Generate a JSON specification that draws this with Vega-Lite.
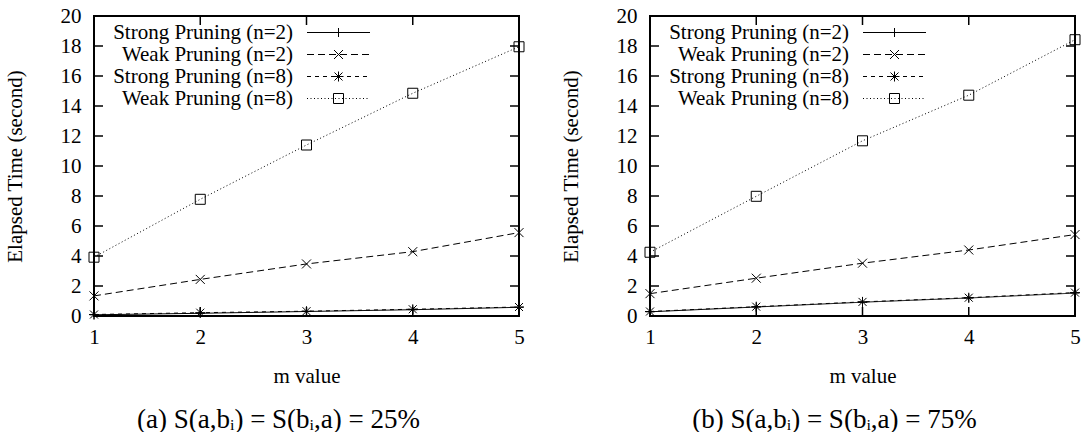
{
  "$schema": "https://vega.github.io/schema/vega-lite/v6.json",
  "background": "white",
  "padding": {"left": 3, "top": 4, "right": 5, "bottom": 5},
  "spacing": 25,
  "config": {
    "font": "Liberation Serif, Times New Roman, DejaVu Serif, serif",
    "view": {"stroke": "#000000", "strokeWidth": 2},
    "axis": {
      "domain": false,
      "grid": false,
      "ticks": false,
      "labelFlush": false,
      "labelColor": "#000000",
      "labelFont": "Liberation Serif, Times New Roman, DejaVu Serif, serif",
      "labelFontSize": 21,
      "titleColor": "#000000",
      "titleFont": "Liberation Serif, Times New Roman, DejaVu Serif, serif",
      "titleFontSize": 21,
      "titleFontWeight": "normal"
    },
    "legend": {
      "orient": "none",
      "title": null,
      "padding": 0,
      "rowPadding": 0,
      "labelFont": "Liberation Serif, Times New Roman, DejaVu Serif, serif",
      "labelFontSize": 21,
      "labelColor": "#000000",
      "labelLimit": 0
    },
    "title": {"font": "Liberation Serif, Times New Roman, DejaVu Serif, serif"}
  },
  "datasets": {
    "s25": [
      {"m": 1, "series": "Strong Pruning (n=2)", "time": 0.08},
      {"m": 2, "series": "Strong Pruning (n=2)", "time": 0.18},
      {"m": 3, "series": "Strong Pruning (n=2)", "time": 0.3},
      {"m": 4, "series": "Strong Pruning (n=2)", "time": 0.42},
      {"m": 5, "series": "Strong Pruning (n=2)", "time": 0.58},
      {"m": 1, "series": "Weak Pruning (n=2)", "time": 1.34},
      {"m": 2, "series": "Weak Pruning (n=2)", "time": 2.44},
      {"m": 3, "series": "Weak Pruning (n=2)", "time": 3.47},
      {"m": 4, "series": "Weak Pruning (n=2)", "time": 4.29},
      {"m": 5, "series": "Weak Pruning (n=2)", "time": 5.56},
      {"m": 1, "series": "Strong Pruning (n=8)", "time": 0.1},
      {"m": 2, "series": "Strong Pruning (n=8)", "time": 0.22},
      {"m": 3, "series": "Strong Pruning (n=8)", "time": 0.32},
      {"m": 4, "series": "Strong Pruning (n=8)", "time": 0.45},
      {"m": 5, "series": "Strong Pruning (n=8)", "time": 0.6},
      {"m": 1, "series": "Weak Pruning (n=8)", "time": 3.92},
      {"m": 2, "series": "Weak Pruning (n=8)", "time": 7.78},
      {"m": 3, "series": "Weak Pruning (n=8)", "time": 11.4},
      {"m": 4, "series": "Weak Pruning (n=8)", "time": 14.85},
      {"m": 5, "series": "Weak Pruning (n=8)", "time": 17.95}
    ],
    "s75": [
      {"m": 1, "series": "Strong Pruning (n=2)", "time": 0.28},
      {"m": 2, "series": "Strong Pruning (n=2)", "time": 0.6},
      {"m": 3, "series": "Strong Pruning (n=2)", "time": 0.92},
      {"m": 4, "series": "Strong Pruning (n=2)", "time": 1.2},
      {"m": 5, "series": "Strong Pruning (n=2)", "time": 1.53},
      {"m": 1, "series": "Weak Pruning (n=2)", "time": 1.49},
      {"m": 2, "series": "Weak Pruning (n=2)", "time": 2.52},
      {"m": 3, "series": "Weak Pruning (n=2)", "time": 3.52},
      {"m": 4, "series": "Weak Pruning (n=2)", "time": 4.4},
      {"m": 5, "series": "Weak Pruning (n=2)", "time": 5.43},
      {"m": 1, "series": "Strong Pruning (n=8)", "time": 0.3},
      {"m": 2, "series": "Strong Pruning (n=8)", "time": 0.62},
      {"m": 3, "series": "Strong Pruning (n=8)", "time": 0.94},
      {"m": 4, "series": "Strong Pruning (n=8)", "time": 1.22},
      {"m": 5, "series": "Strong Pruning (n=8)", "time": 1.56},
      {"m": 1, "series": "Weak Pruning (n=8)", "time": 4.25},
      {"m": 2, "series": "Weak Pruning (n=8)", "time": 7.98},
      {"m": 3, "series": "Weak Pruning (n=8)", "time": 11.68},
      {"m": 4, "series": "Weak Pruning (n=8)", "time": 14.72},
      {"m": 5, "series": "Weak Pruning (n=8)", "time": 18.42}
    ],
    "ticks": [
      {"side": "left", "m": 1, "time": 2}, {"side": "left", "m": 1, "time": 4}, {"side": "left", "m": 1, "time": 6},
      {"side": "left", "m": 1, "time": 8}, {"side": "left", "m": 1, "time": 10}, {"side": "left", "m": 1, "time": 12},
      {"side": "left", "m": 1, "time": 14}, {"side": "left", "m": 1, "time": 16}, {"side": "left", "m": 1, "time": 18},
      {"side": "right", "m": 5, "time": 2}, {"side": "right", "m": 5, "time": 4}, {"side": "right", "m": 5, "time": 6},
      {"side": "right", "m": 5, "time": 8}, {"side": "right", "m": 5, "time": 10}, {"side": "right", "m": 5, "time": 12},
      {"side": "right", "m": 5, "time": 14}, {"side": "right", "m": 5, "time": 16}, {"side": "right", "m": 5, "time": 18},
      {"side": "bottom", "m": 2, "time": 0}, {"side": "bottom", "m": 3, "time": 0}, {"side": "bottom", "m": 4, "time": 0},
      {"side": "top", "m": 2, "time": 20}, {"side": "top", "m": 3, "time": 20}, {"side": "top", "m": 4, "time": 20}
    ]
  },
  "resolve": {
    "scale": {"strokeDash": "independent", "shape": "independent"},
    "legend": {"strokeDash": "independent", "shape": "independent"}
  },
  "hconcat": [
    {
      "width": 425,
      "height": 300,
      "data": {"name": "s25"},
      "title": {"text": "(a) S(a,bᵢ) = S(bᵢ,a) = 25%", "orient": "bottom", "anchor": "middle", "frame": "group", "fontSize": 27, "fontWeight": "normal", "color": "#000000", "offset": 21, "dx": -28},
      "encoding": {
        "x": {"field": "m", "type": "quantitative", "scale": {"domain": [1, 5], "nice": false, "zero": false},
              "axis": {"orient": "bottom", "values": [1, 2, 3, 4, 5], "format": "d", "title": "m value", "labelPadding": 10, "titlePadding": 18}},
        "y": {"field": "time", "type": "quantitative", "scale": {"domain": [0, 20], "nice": false},
              "axis": {"orient": "left", "values": [0, 2, 4, 6, 8, 10, 12, 14, 16, 18, 20], "title": "Elapsed Time (second)", "labelPadding": 13, "titlePadding": 35}}
      },
      "resolve": {"scale": {"shape": "independent"}, "legend": {"shape": "independent"}},
      "layer": [
        {
          "data": {"name": "ticks"},
          "mark": {"type": "point", "filled": false, "stroke": "#000000", "strokeWidth": 1.5, "size": 324, "opacity": 1},
          "encoding": {
            "shape": {"field": "side", "type": "nominal",
              "scale": {"domain": ["left", "right", "bottom", "top"], "range": ["M0,0H1", "M0,0H-1", "M0,0V-1", "M0,0V1"]},
              "legend": null}
          }
        },
        {
          "mark": {"type": "line", "color": "#000000", "strokeWidth": 1},
          "encoding": {
            "strokeDash": {"field": "series", "type": "nominal",
              "scale": {"domain": ["Strong Pruning (n=2)", "Weak Pruning (n=2)", "Strong Pruning (n=8)", "Weak Pruning (n=8)"], "range": [[1, 0], [7, 4], [4, 4], [1, 2.5]]},
              "legend": {"legendX": 234, "legendY": 6, "symbolType": "M-6.3,0H6.3", "symbolSize": 100, "symbolStrokeWidth": 1, "symbolStrokeColor": "#000000", "labelAlign": "right", "labelOffset": -56}}
          }
        },
        {
          "mark": {"type": "point", "filled": false, "stroke": "#000000", "strokeWidth": 1, "size": 100, "opacity": 1},
          "encoding": {
            "shape": {"field": "series", "type": "nominal",
              "sort": ["Strong Pruning (n=2)", "Weak Pruning (n=2)", "Strong Pruning (n=8)", "Weak Pruning (n=8)"],
              "scale": {"range": ["M-0.9,0H0.9M0,-0.9V0.9", "M-0.9,-0.9L0.9,0.9M-0.9,0.9L0.9,-0.9", "M-1,0H1M0,-1V1M-0.8,-0.8L0.8,0.8M-0.8,0.8L0.8,-0.8", "M-1,-1H1V1H-1Z"]},
              "legend": {"legendX": 234, "legendY": 6, "symbolSize": 100, "symbolStrokeWidth": 1, "symbolStrokeColor": "#000000", "symbolFillColor": "#ffffff", "labelOpacity": 0}}
          }
        }
      ]
    },
    {
      "width": 425,
      "height": 300,
      "data": {"name": "s75"},
      "title": {"text": "(b) S(a,bᵢ) = S(bᵢ,a) = 75%", "orient": "bottom", "anchor": "middle", "frame": "group", "fontSize": 27, "fontWeight": "normal", "color": "#000000", "offset": 21, "dx": -28},
      "encoding": {
        "x": {"field": "m", "type": "quantitative", "scale": {"domain": [1, 5], "nice": false, "zero": false},
              "axis": {"orient": "bottom", "values": [1, 2, 3, 4, 5], "format": "d", "title": "m value", "labelPadding": 10, "titlePadding": 18}},
        "y": {"field": "time", "type": "quantitative", "scale": {"domain": [0, 20], "nice": false},
              "axis": {"orient": "left", "values": [0, 2, 4, 6, 8, 10, 12, 14, 16, 18, 20], "title": "Elapsed Time (second)", "labelPadding": 13, "titlePadding": 35}}
      },
      "resolve": {"scale": {"shape": "independent"}, "legend": {"shape": "independent"}},
      "layer": [
        {
          "data": {"name": "ticks"},
          "mark": {"type": "point", "filled": false, "stroke": "#000000", "strokeWidth": 1.5, "size": 324, "opacity": 1},
          "encoding": {
            "shape": {"field": "side", "type": "nominal",
              "scale": {"domain": ["left", "right", "bottom", "top"], "range": ["M0,0H1", "M0,0H-1", "M0,0V-1", "M0,0V1"]},
              "legend": null}
          }
        },
        {
          "mark": {"type": "line", "color": "#000000", "strokeWidth": 1},
          "encoding": {
            "strokeDash": {"field": "series", "type": "nominal",
              "scale": {"domain": ["Strong Pruning (n=2)", "Weak Pruning (n=2)", "Strong Pruning (n=8)", "Weak Pruning (n=8)"], "range": [[1, 0], [7, 4], [4, 4], [1, 2.5]]},
              "legend": {"legendX": 234, "legendY": 6, "symbolType": "M-6.3,0H6.3", "symbolSize": 100, "symbolStrokeWidth": 1, "symbolStrokeColor": "#000000", "labelAlign": "right", "labelOffset": -56}}
          }
        },
        {
          "mark": {"type": "point", "filled": false, "stroke": "#000000", "strokeWidth": 1, "size": 100, "opacity": 1},
          "encoding": {
            "shape": {"field": "series", "type": "nominal",
              "sort": ["Strong Pruning (n=2)", "Weak Pruning (n=2)", "Strong Pruning (n=8)", "Weak Pruning (n=8)"],
              "scale": {"range": ["M-0.9,0H0.9M0,-0.9V0.9", "M-0.9,-0.9L0.9,0.9M-0.9,0.9L0.9,-0.9", "M-1,0H1M0,-1V1M-0.8,-0.8L0.8,0.8M-0.8,0.8L0.8,-0.8", "M-1,-1H1V1H-1Z"]},
              "legend": {"legendX": 234, "legendY": 6, "symbolSize": 100, "symbolStrokeWidth": 1, "symbolStrokeColor": "#000000", "symbolFillColor": "#ffffff", "labelOpacity": 0}}
          }
        }
      ]
    }
  ]
}
